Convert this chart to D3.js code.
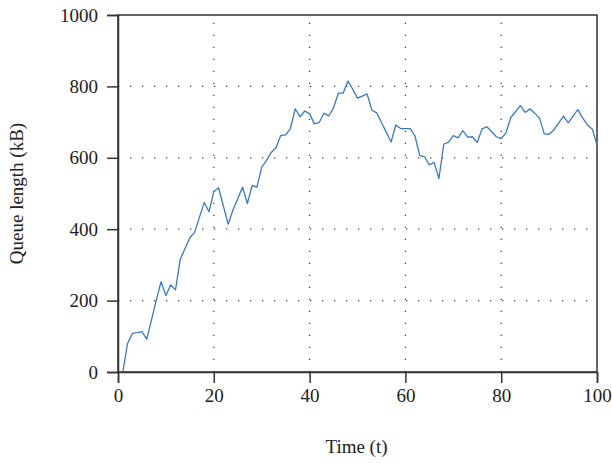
<!DOCTYPE html>
<html>
<head>
<meta charset="utf-8">
<script src="https://cdn.jsdelivr.net/npm/d3@7"></script>
<style>
  body { margin: 0; background: #fff; }
  svg text { font-family: "Liberation Serif", "DejaVu Serif", serif; fill: #222; }
</style>
</head>
<body>
<div id="chart"></div>
<script>
// queue length (kB) per time step t = 1..100
const times = d3.range(1, 101);
const queue = [
    0, 80, 108, 110, 113, 92, 146, 202, 253, 214,
    244, 230, 316, 346, 376, 391, 433, 475, 449, 505,
    516, 465, 414, 454, 485, 518, 472, 522, 518, 573,
    593, 615, 629, 663, 664, 682, 737, 715, 731, 723,
    695, 699, 725, 717, 740, 781, 781, 815, 792, 767,
    773, 779, 734, 726, 699, 672, 644, 692, 682, 682,
    682, 661, 606, 603, 580, 587, 542, 638, 644, 662,
    656, 676, 658, 659, 643, 681, 687, 673, 659, 654,
    670, 713, 729, 746, 727, 737, 725, 711, 667, 666,
    678, 697, 717, 698, 717, 735, 712, 692, 681, 636
];
const xTicks = [0, 20, 40, 60, 80, 100];
const yTicks = [0, 200, 400, 600, 800, 1000];
const xGrid = [20, 40, 60, 80];
const yGrid = [200, 400, 600, 800];

const W = 612, H = 463;
const margin = { top: 15, right: 15, bottom: 91, left: 118 };
const width = W - margin.left - margin.right;
const height = H - margin.top - margin.bottom;

const svg = d3.select('#chart').append('svg').attr('width', W).attr('height', H);
const g = svg.append('g').attr('transform', `translate(${margin.left},${margin.top})`);

const x = d3.scaleLinear().domain([0, 100]).range([0, width]);
const y = d3.scaleLinear().domain([0, 1000]).range([height, 0]);

// dotted grid
g.append('g').selectAll('line').data(xGrid).enter().append('line')
    .attr('x1', d => x(d)).attr('x2', d => x(d)).attr('y1', height).attr('y2', 0)
    .attr('stroke', '#444').attr('stroke-width', 1.3).attr('stroke-dasharray', '1.3,10.7');
g.append('g').selectAll('line').data(yGrid).enter().append('line')
    .attr('x1', 0).attr('x2', width).attr('y1', d => y(d)).attr('y2', d => y(d))
    .attr('stroke', '#444').attr('stroke-width', 1.3).attr('stroke-dasharray', '1.3,10.7');

// frame
g.append('rect').attr('width', width).attr('height', height)
    .attr('fill', 'none').attr('stroke', '#333').attr('stroke-width', 1.5);

// line
const line = d3.line().x((d, i) => x(times[i])).y(d => y(d));
g.append('path').datum(queue).attr('d', line)
    .attr('fill', 'none').attr('stroke', '#3a7ac0').attr('stroke-width', 1.3).attr('stroke-linejoin', 'round');

// axes
const xAxis = g.append('g').attr('transform', `translate(0,${height})`)
    .call(d3.axisBottom(x).tickValues(xTicks).tickSize(11).tickPadding(6).tickFormat(d3.format('d')));
const yAxis = g.append('g')
    .call(d3.axisLeft(y).tickValues(yTicks).tickSize(11).tickPadding(9).tickFormat(d3.format('d')));
[xAxis, yAxis].forEach(a => {
    a.select('.domain').attr('stroke', '#333').attr('stroke-width', 1.5);
    a.selectAll('.tick line').attr('stroke', '#333').attr('stroke-width', 1.5);
    a.selectAll('.tick text').style('font-size', '19px').style('font-family', '"Liberation Serif", serif').attr('fill', '#222');
});

// axis titles
svg.append('text').attr('x', margin.left + width / 2 - 1).attr('y', 453)
    .attr('text-anchor', 'middle').style('font-size', '19px').text('Time (t)');
svg.append('text').attr('transform', `translate(23,${margin.top + height / 2}) rotate(-90)`)
    .attr('text-anchor', 'middle').style('font-size', '19px').text('Queue length (kB)');
</script>
</body>
</html>
